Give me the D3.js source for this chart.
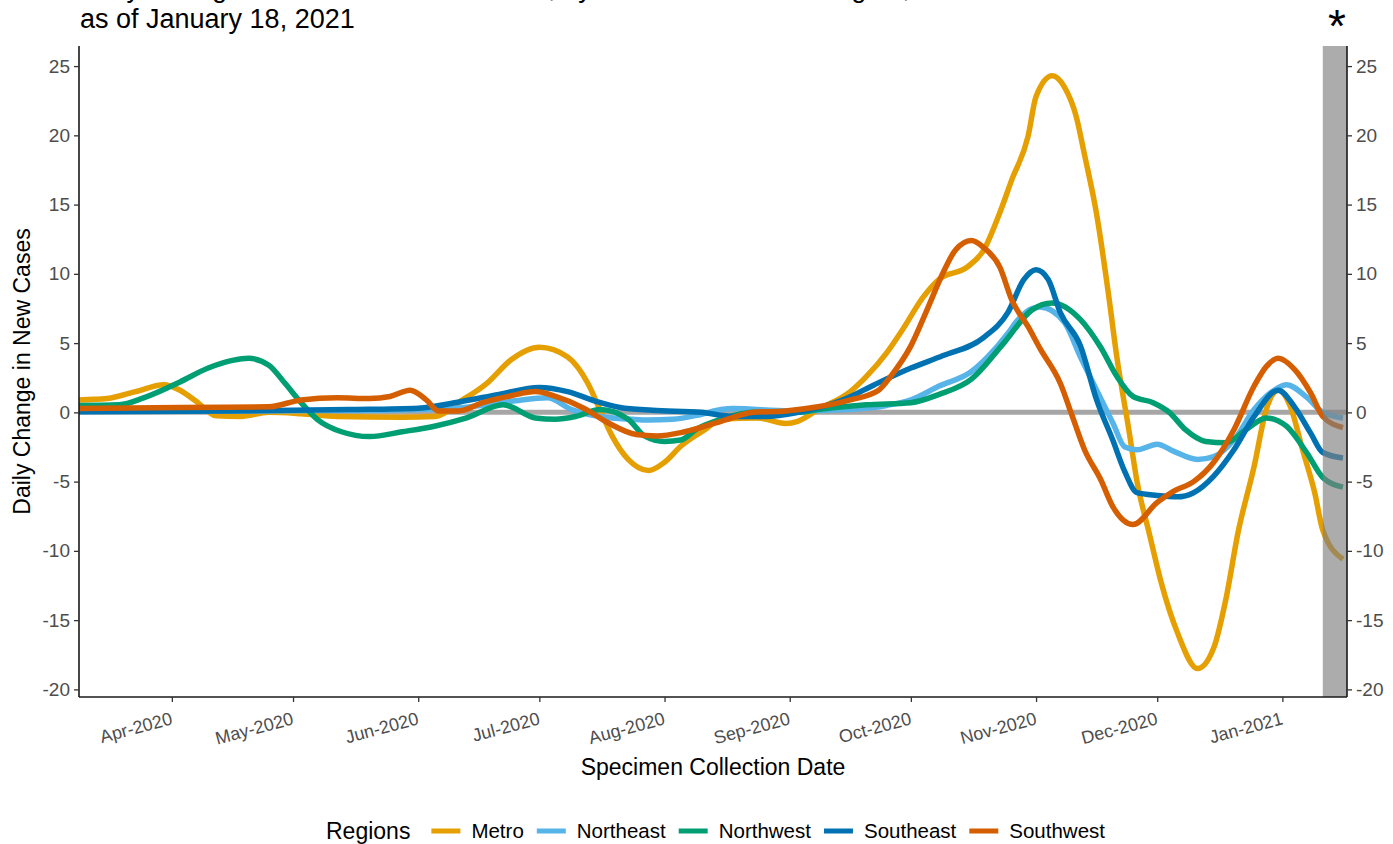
<!DOCTYPE html>
<head>
  <meta charset="utf-8">
  <script src="https://d3js.org/d3.v7.min.js"></script>
  <style>
    body { margin: 0; background: #fff; }
    text { font-family: "Liberation Sans", Arial, sans-serif; }
  </style>
</head>

<body>
  <script>
  // region names and colours (legend order = draw order)
  var regions = ["Metro", "Northeast", "Northwest", "Southeast", "Southwest"];
  var regionColors = ["#E69F00", "#56B4E9", "#009E73", "#0072B2", "#D55E00"];

  // daily change in new cases: [date, value]
  var metro = [
    ["2020-03-09", 0.9], ["2020-03-16", 1.0], ["2020-03-23", 1.5], ["2020-03-30", 2.0],
    ["2020-04-03", 1.6], ["2020-04-07", 0.8], ["2020-04-12", -0.25], ["2020-04-18", -0.3],
    ["2020-04-25", 0.0], ["2020-05-03", -0.1], ["2020-05-12", -0.3], ["2020-05-28", -0.35],
    ["2020-06-05", -0.3], ["2020-06-12", 0.9], ["2020-06-18", 2.1], ["2020-06-24", 3.8],
    ["2020-07-01", 4.7], ["2020-07-08", 4.0], ["2020-07-13", 2.1], ["2020-07-16", 0.2],
    ["2020-07-19", -1.7], ["2020-07-23", -3.4], ["2020-07-28", -4.2], ["2020-08-01", -3.6],
    ["2020-08-05", -2.45], ["2020-08-11", -1.25], ["2020-08-15", -0.5], ["2020-08-24", -0.4],
    ["2020-08-31", -0.8], ["2020-09-03", -0.65], ["2020-09-08", 0.2], ["2020-09-16", 1.5],
    ["2020-09-20", 2.6], ["2020-09-25", 4.3], ["2020-09-29", 6.0], ["2020-10-04", 8.3],
    ["2020-10-08", 9.6], ["2020-10-15", 10.5], ["2020-10-19", 11.7], ["2020-10-23", 14.4],
    ["2020-10-26", 16.8], ["2020-10-30", 19.9], ["2020-11-01", 22.8], ["2020-11-05", 24.3],
    ["2020-11-08", 23.5], ["2020-11-11", 21.3], ["2020-11-13", 18.6], ["2020-11-16", 14.3],
    ["2020-11-19", 8.4], ["2020-11-21", 4.0], ["2020-11-24", -1.3], ["2020-11-26", -5.0],
    ["2020-11-29", -8.7], ["2020-12-02", -12.3], ["2020-12-06", -15.9], ["2020-12-11", -18.5],
    ["2020-12-15", -17.0], ["2020-12-18", -13.5], ["2020-12-21", -8.7], ["2020-12-25", -3.9],
    ["2020-12-28", 0.2], ["2020-12-31", 1.6], ["2021-01-03", 0.4], ["2021-01-06", -2.7],
    ["2021-01-09", -5.8], ["2021-01-11", -8.5], ["2021-01-16", -10.6]
  ];
  var northeast = [
    ["2020-03-09", 0.1], ["2020-04-15", 0.1], ["2020-05-20", 0.15], ["2020-06-10", 0.3],
    ["2020-06-24", 0.8], ["2020-07-03", 1.05], ["2020-07-09", 0.2], ["2020-07-16", -0.3],
    ["2020-07-24", -0.5], ["2020-07-28", -0.55], ["2020-08-03", -0.5], ["2020-08-10", -0.15],
    ["2020-08-15", 0.2], ["2020-08-18", 0.27], ["2020-09-01", 0.1], ["2020-09-15", 0.2],
    ["2020-09-25", 0.5], ["2020-10-01", 0.9], ["2020-10-08", 1.9], ["2020-10-16", 2.95],
    ["2020-10-20", 4.0], ["2020-10-25", 5.7], ["2020-10-27", 6.5], ["2020-10-31", 7.5],
    ["2020-11-02", 7.6], ["2020-11-08", 6.5], ["2020-11-12", 4.0], ["2020-11-16", 1.6],
    ["2020-11-20", -0.75], ["2020-11-23", -2.5], ["2020-11-26", -2.7], ["2020-12-01", -2.3],
    ["2020-12-05", -2.8], ["2020-12-11", -3.4], ["2020-12-15", -3.2], ["2020-12-20", -2.0],
    ["2020-12-25", 0.2], ["2020-12-29", 1.4], ["2021-01-02", 2.0], ["2021-01-07", 1.1],
    ["2021-01-11", 0.0], ["2021-01-16", -0.4]
  ];
  var northwest = [
    ["2020-03-09", 0.5], ["2020-03-19", 0.55], ["2020-03-25", 1.05], ["2020-04-03", 2.2],
    ["2020-04-10", 3.2], ["2020-04-16", 3.75], ["2020-04-20", 3.9], ["2020-04-25", 3.4],
    ["2020-04-29", 2.1], ["2020-05-03", 0.7], ["2020-05-07", -0.5], ["2020-05-13", -1.4],
    ["2020-05-20", -1.75], ["2020-05-28", -1.4], ["2020-06-05", -1.0], ["2020-06-13", -0.4],
    ["2020-06-22", 0.55], ["2020-06-30", -0.4], ["2020-07-05", -0.5], ["2020-07-10", -0.3],
    ["2020-07-16", 0.2], ["2020-07-23", -0.5], ["2020-07-27", -1.7], ["2020-08-01", -2.1],
    ["2020-08-05", -2.0], ["2020-08-09", -1.2], ["2020-08-15", -0.5], ["2020-08-23", 0.0],
    ["2020-09-03", 0.0], ["2020-09-08", 0.2], ["2020-09-20", 0.55], ["2020-10-01", 0.7],
    ["2020-10-08", 1.3], ["2020-10-16", 2.4], ["2020-10-24", 5.0], ["2020-10-31", 7.4],
    ["2020-11-05", 7.9], ["2020-11-12", 6.7], ["2020-11-17", 4.7], ["2020-11-21", 2.6],
    ["2020-11-25", 1.15], ["2020-11-30", 0.7], ["2020-12-04", 0.0], ["2020-12-08", -1.25],
    ["2020-12-13", -2.1], ["2020-12-18", -2.2], ["2020-12-23", -1.25], ["2020-12-28", -0.4],
    ["2021-01-02", -1.0], ["2021-01-07", -2.9], ["2021-01-11", -4.7], ["2021-01-16", -5.4]
  ];
  var southeast = [
    ["2020-03-09", 0.05], ["2020-04-15", 0.1], ["2020-05-15", 0.2], ["2020-06-01", 0.3],
    ["2020-06-12", 0.8], ["2020-06-21", 1.3], ["2020-07-01", 1.8], ["2020-07-08", 1.5],
    ["2020-07-15", 0.8], ["2020-07-21", 0.35], ["2020-07-29", 0.15], ["2020-08-10", 0.0],
    ["2020-08-18", -0.3], ["2020-08-26", -0.3], ["2020-09-03", 0.0], ["2020-09-15", 1.0],
    ["2020-09-22", 2.0], ["2020-10-01", 3.2], ["2020-10-09", 4.1], ["2020-10-19", 5.4],
    ["2020-10-25", 7.2], ["2020-10-29", 9.6], ["2020-11-01", 10.3], ["2020-11-04", 9.6],
    ["2020-11-07", 7.2], ["2020-11-12", 4.8], ["2020-11-16", 0.9], ["2020-11-20", -2.0],
    ["2020-11-23", -4.3], ["2020-11-26", -5.8], ["2020-12-01", -6.0], ["2020-12-06", -6.1],
    ["2020-12-10", -5.8], ["2020-12-15", -4.6], ["2020-12-20", -2.7], ["2020-12-25", -0.3],
    ["2020-12-31", 1.6], ["2021-01-04", 0.4], ["2021-01-08", -1.5], ["2021-01-11", -2.9],
    ["2021-01-16", -3.3]
  ];
  var southwest = [
    ["2020-03-09", 0.27], ["2020-04-03", 0.35], ["2020-04-25", 0.4], ["2020-05-03", 0.9],
    ["2020-05-12", 1.05], ["2020-05-20", 1.0], ["2020-05-25", 1.15], ["2020-05-30", 1.6],
    ["2020-06-03", 0.9], ["2020-06-06", 0.1], ["2020-06-11", 0.1], ["2020-06-17", 0.7],
    ["2020-06-24", 1.2], ["2020-06-30", 1.5], ["2020-07-05", 1.15], ["2020-07-12", 0.3],
    ["2020-07-18", -0.75], ["2020-07-25", -1.6], ["2020-07-30", -1.7], ["2020-08-06", -1.4],
    ["2020-08-15", -0.65], ["2020-08-23", 0.0], ["2020-08-31", 0.1], ["2020-09-08", 0.4],
    ["2020-09-16", 0.9], ["2020-09-23", 1.6], ["2020-09-26", 2.6], ["2020-10-01", 4.8],
    ["2020-10-05", 7.4], ["2020-10-09", 10.1], ["2020-10-12", 11.7], ["2020-10-16", 12.4],
    ["2020-10-19", 11.9], ["2020-10-23", 10.5], ["2020-10-26", 8.1], ["2020-10-30", 6.2],
    ["2020-11-02", 4.6], ["2020-11-07", 2.1], ["2020-11-10", -0.3], ["2020-11-13", -2.7],
    ["2020-11-17", -4.85], ["2020-11-20", -6.8], ["2020-11-25", -8.1], ["2020-12-01", -6.5],
    ["2020-12-05", -5.7], ["2020-12-10", -5.0], ["2020-12-15", -3.6], ["2020-12-20", -1.25],
    ["2020-12-25", 1.9], ["2020-12-28", 3.3], ["2020-12-31", 3.9], ["2021-01-04", 3.1],
    ["2021-01-08", 1.4], ["2021-01-11", -0.3], ["2021-01-16", -1.1]
  ];

  var yTicks = [-20, -15, -10, -5, 0, 5, 10, 15, 20, 25];
  var monthTicks = ["2020-04-01", "2020-05-01", "2020-06-01", "2020-07-01", "2020-08-01",
    "2020-09-01", "2020-10-01", "2020-11-01", "2020-12-01", "2021-01-01"];
  var dateRange = ["2020-03-09", "2021-01-17"];
  var recentStart = "2021-01-11";   // shaded, incomplete data
  var yRange = [-20.55, 26.45];

  var parseDate = d3.timeParse("%Y-%m-%d");
  var fmtMonth = d3.timeFormat("%b-%Y");

  var width = 1393, height = 844;
  var margin = {top: 46, right: 46, bottom: 147, left: 79};

  var svg = d3.select("body").append("svg")
      .attr("width", width)
      .attr("height", height);

  var x = d3.scaleTime()
      .domain(dateRange.map(parseDate))
      .range([margin.left, width - margin.right]);

  var y = d3.scaleLinear()
      .domain(yRange)
      .range([height - margin.bottom, margin.top]);

  var seriesData = [metro, northeast, northwest, southeast, southwest].map(function(s, i) {
    return {
      name: regions[i],
      color: regionColors[i],
      values: s.map(function(d) { return {date: parseDate(d[0]), value: d[1]}; })
    };
  });

  // title (first line is cut off at the top of the image, as in the source)
  svg.append("text")
      .attr("x", 80).attr("y", -3)
      .attr("font-size", 27)
      .text("Daily Change in New COVID-19 Cases, by Minnesota Health Region,");
  svg.append("text")
      .attr("x", 80).attr("y", 28)
      .attr("font-size", 27)
      .text("as of January 18, 2021");

  // zero reference line
  svg.append("line")
      .attr("x1", x.range()[0]).attr("x2", x.range()[1])
      .attr("y1", y(0)).attr("y2", y(0))
      .attr("stroke", "#a6a6a6")
      .attr("stroke-width", 5);

  var line = d3.line()
      .curve(d3.curveMonotoneX)
      .x(function(d) { return x(d.date); })
      .y(function(d) { return y(d.value); });

  svg.append("g").selectAll("path")
    .data(seriesData)
    .enter().append("path")
      .attr("fill", "none")
      .attr("stroke", function(d) { return d.color; })
      .attr("stroke-width", 5.5)
      .attr("stroke-linejoin", "round")
      .attr("d", function(d) { return line(d.values); });

  // shaded recent period
  svg.append("rect")
      .attr("x", x(parseDate(recentStart)))
      .attr("y", y.range()[1])
      .attr("width", x.range()[1] - x(parseDate(recentStart)))
      .attr("height", y.range()[0] - y.range()[1])
      .attr("fill", "#808080")
      .attr("fill-opacity", 0.65);

  svg.append("text")
      .attr("x", 1337).attr("y", 42)
      .attr("text-anchor", "middle")
      .attr("font-size", 46)
      .text("*");

  // axes
  var numFmt = function(d) { return String(d); };
  var yAxisL = svg.append("g")
      .attr("transform", "translate(" + x.range()[0] + ",0)")
      .call(d3.axisLeft(y).tickValues(yTicks).tickSize(5).tickPadding(4).tickFormat(numFmt));
  var yAxisR = svg.append("g")
      .attr("transform", "translate(" + x.range()[1] + ",0)")
      .call(d3.axisRight(y).tickValues(yTicks).tickSize(5).tickPadding(4).tickFormat(numFmt));
  var xAxis = svg.append("g")
      .attr("transform", "translate(0," + y.range()[0] + ")")
      .call(d3.axisBottom(x).tickValues(monthTicks.map(parseDate)).tickSize(5).tickFormat(fmtMonth));

  [yAxisL, yAxisR, xAxis].forEach(function(ax) {
    ax.select(".domain").attr("stroke", "#1a1a1a").attr("stroke-width", 1.6);
    ax.selectAll(".tick line").attr("stroke", "#333").attr("stroke-width", 1.3);
    ax.selectAll(".tick text")
        .attr("fill", "#4d4d4d")
        .attr("font-size", 19)
        .attr("font-family", "Liberation Sans, Arial, sans-serif");
  });
  // ggplot-like axis lines: no outer tick ends
  yAxisL.select(".domain").attr("d", "M0," + y.range()[1] + "V" + y.range()[0]);
  yAxisR.select(".domain").attr("d", "M0," + y.range()[1] + "V" + y.range()[0]);
  xAxis.select(".domain").attr("d", "M" + x.range()[0] + ",0H" + x.range()[1]);

  xAxis.selectAll(".tick text")
      .attr("text-anchor", "end")
      .attr("font-size", 18)
      .attr("y", 0).attr("dy", 0)
      .attr("transform", "translate(1,27) rotate(-15)");

  svg.append("text")
      .attr("x", (x.range()[0] + x.range()[1]) / 2)
      .attr("y", 775)
      .attr("text-anchor", "middle")
      .attr("font-size", 23)
      .text("Specimen Collection Date");

  svg.append("text")
      .attr("transform", "translate(30," + (y.range()[0] + y.range()[1]) / 2 + ") rotate(-90)")
      .attr("text-anchor", "middle")
      .attr("font-size", 23)
      .text("Daily Change in New Cases");

  // legend
  var legend = svg.append("g").attr("transform", "translate(326,831)");
  var legTitle = legend.append("text")
      .attr("dy", "0.36em")
      .attr("font-size", 23)
      .text("Regions");
  var lx = legTitle.node().getComputedTextLength() + 21;
  seriesData.forEach(function(s) {
    legend.append("line")
        .attr("x1", lx).attr("x2", lx + 29)
        .attr("stroke", s.color)
        .attr("stroke-width", 5);
    var t = legend.append("text")
        .attr("x", lx + 40)
        .attr("dy", "0.36em")
        .attr("font-size", 20.5)
        .text(s.name);
    lx += 40 + t.node().getComputedTextLength() + 13;
  });
  </script>
</body>
